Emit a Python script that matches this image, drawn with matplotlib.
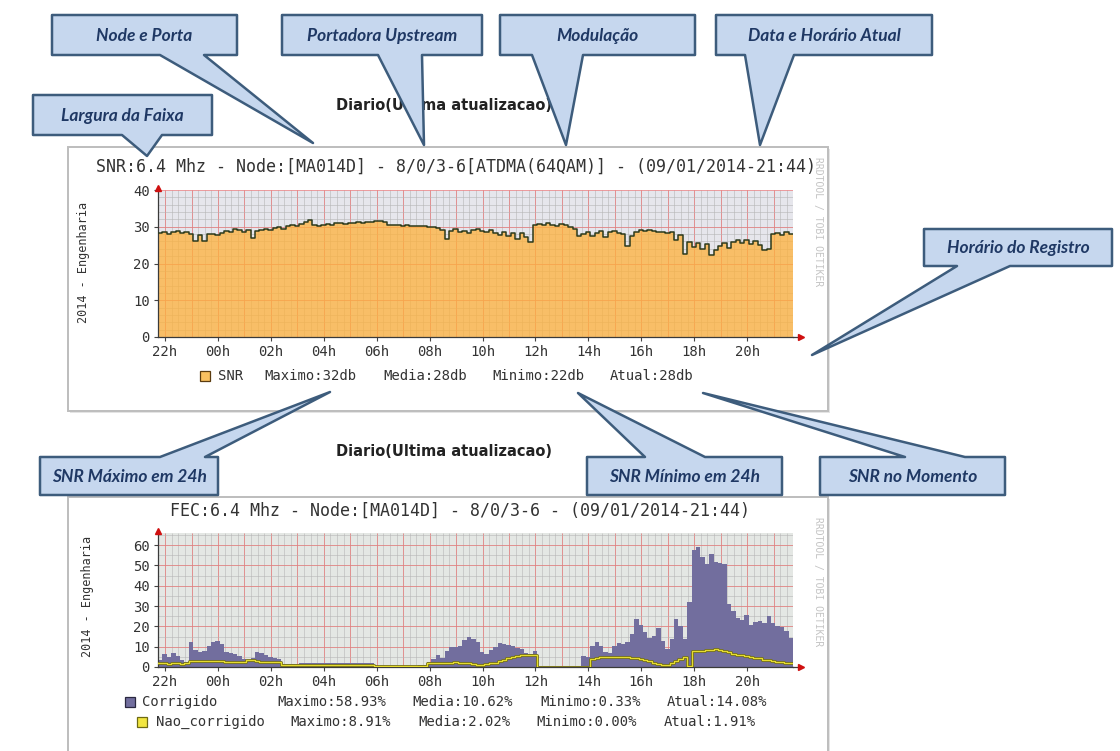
import numpy as np
import matplotlib
matplotlib.use("Agg")
import matplotlib.pyplot as plt
from matplotlib.patches import Polygon, Rectangle

W, H, DPI = 1120, 751, 100

# ---- time axis: 24 h window ending 09/01/2014 21:44, 10-minute samples ----
T_START = -(2 + 16 / 60)      # 21:44 of the previous day, in hours relative to 00h
STEP_H = 10 / 60
hour_ticks = [-2, 0, 2, 4, 6, 8, 10, 12, 14, 16, 18, 20]
hour_labels = ["22h", "00h", "02h", "04h", "06h", "08h", "10h",
               "12h", "14h", "16h", "18h", "20h"]

# ---- SNR (dB) ----
snr = [
    28.2, 28.5, 28.0, 28.6, 28.9, 28.3, 28.7, 28.1, 26.0, 27.8, 26.2, 27.9,
    28.0, 27.7, 28.4, 28.9, 28.5, 29.3, 29.0, 28.6, 29.1, 27.0, 28.8, 29.2,
    29.4, 29.0, 29.6, 29.9, 29.5, 30.2, 30.4, 30.1, 30.7, 31.4, 31.8, 30.6,
    30.3, 30.5, 30.8, 30.6, 30.9, 31.0, 30.8, 31.1, 30.9, 31.2, 31.0, 31.3,
    31.4, 31.6, 31.5, 31.2, 30.6, 30.4, 30.5, 30.3, 30.4, 30.2, 30.3, 30.1,
    30.2, 29.8, 29.9, 29.6, 29.2, 26.6, 28.8, 29.3, 28.6, 28.9, 28.4, 29.0,
    29.3, 28.8, 28.6, 29.1, 28.2, 27.7, 28.6, 27.5, 28.4, 26.6, 28.3, 27.2,
    25.9, 30.4, 30.8, 30.5, 30.9, 30.6, 30.2, 30.7, 30.4, 29.8, 29.5, 27.4,
    28.1, 28.6, 27.6, 28.3, 28.8, 27.2, 28.5, 28.9, 28.4, 27.9, 24.8, 27.6,
    28.6, 29.1, 28.8, 29.2, 28.9, 28.7, 28.6, 28.4, 28.7, 26.4, 27.8, 22.6,
    25.8, 24.6, 25.7, 23.9, 25.2, 22.4, 23.6, 24.8, 25.6, 24.2, 25.9, 26.4,
    25.6, 26.3, 25.4, 26.2, 24.9, 23.6, 23.9, 28.0, 28.3, 27.8, 28.6, 28.1,
]
snr_legend = ["Maximo:32db", "Media:28db", "Minimo:22db", "Atual:28db"]

# ---- FEC (%) ----
corrigido = [
    3.5, 6.5, 5.0, 7.0, 5.5, 3.5, 2.5, 12.3, 8.5, 7.5, 8.0, 10.5,
    12.5, 12.8, 11.5, 7.5, 6.8, 6.5, 5.5, 4.0, 3.5, 4.5, 7.5, 7.0,
    6.0, 5.0, 4.5, 4.0, 1.5, 1.6, 1.5, 1.7, 1.8, 2.0, 2.0, 1.9,
    2.0, 2.1, 1.9, 2.0, 2.1, 2.0, 1.9, 2.0, 1.8, 1.9, 2.0, 2.1,
    2.0, 0.6, 0.5, 0.5, 0.4, 0.5, 0.5, 0.6, 0.5, 0.6, 0.7, 0.8,
    1.0, 2.5, 4.0, 5.8, 4.5, 8.0, 10.0, 10.0, 10.2, 13.5, 14.6, 13.8,
    12.5, 7.5, 6.5, 8.5, 10.0, 11.8, 11.2, 10.8, 10.5, 9.5, 9.0, 7.0,
    6.5, 8.0, 0.4, 0.35, 0.33, 0.35, 0.4, 0.35, 0.33, 0.35, 0.4, 0.35,
    5.5, 5.0, 10.5, 12.3, 10.5, 7.5, 6.8, 10.5, 12.0, 11.5, 12.5, 16.5,
    23.5, 20.5, 17.0, 14.5, 15.5, 19.0, 13.0, 9.0, 14.0, 23.5, 20.0, 14.0,
    32.0, 57.5, 58.93, 54.0, 50.5, 55.5, 51.5, 51.0, 50.8, 31.0, 27.5, 24.0,
    23.0, 25.8, 20.5, 22.0, 22.5, 21.5, 25.0, 21.5, 20.0, 19.5, 17.5, 14.08,
]
nao_corrigido = [
    1.8, 1.8, 1.7, 1.8, 1.8, 1.7, 1.8, 3.2, 3.0, 2.9, 3.0, 2.9,
    3.0, 2.9, 2.8, 2.6, 2.5, 2.4, 2.4, 2.6, 3.3, 3.4, 2.8, 2.7,
    2.7, 2.6, 2.6, 2.5, 1.0, 1.0, 1.1, 1.0, 1.0, 1.1, 1.0, 1.0,
    1.0, 1.1, 1.0, 1.0, 1.1, 1.0, 1.0, 1.1, 1.0, 1.0, 1.1, 1.0,
    1.0, 0.4, 0.4, 0.3, 0.4, 0.4, 0.3, 0.4, 0.4, 0.4, 0.5, 0.5,
    0.6, 1.8, 2.0, 2.2, 2.2, 2.1, 2.2, 2.3, 2.2, 2.0, 1.8, 1.5,
    1.2, 1.0, 1.5, 1.8, 2.2, 2.8, 3.5, 4.2, 5.0, 5.5, 5.7, 5.8,
    6.0, 6.1, 0.0, 0.0, 0.0, 0.0, 0.0, 0.0, 0.0, 0.0, 0.0, 0.0,
    0.0, 0.0, 3.8, 4.6, 4.8, 4.9, 4.9, 4.8, 4.9, 4.8, 4.7, 4.6,
    4.4, 4.0, 3.5, 2.8, 2.2, 1.3, 0.9, 1.2, 1.8, 2.8, 4.0, 4.8,
    0.3, 8.0, 7.8, 8.0, 8.2, 8.4, 8.91, 8.6, 7.8, 7.2, 6.6, 6.0,
    5.7, 5.4, 5.0, 4.6, 4.2, 3.6, 3.4, 3.0, 2.6, 2.4, 2.1, 1.91,
]
corr_legend = ["Maximo:58.93%", "Media:10.62%", "Minimo:0.33%", "Atual:14.08%"]
nao_legend = ["Maximo:8.91%", "Media:2.02%", "Minimo:0.00%", "Atual:1.91%"]

snr_title = "SNR:6.4 Mhz - Node:[MA014D] - 8/0/3-6[ATDMA(64QAM)] - (09/01/2014-21:44)"
fec_title = "FEC:6.4 Mhz - Node:[MA014D] - 8/0/3-6 - (09/01/2014-21:44)"
page_title = "Diario(Ultima atualizacao)"
y_title = "2014 - Engenharia"
watermark = "RRDTOOL / TOBI OETIKER"

MONO = "DejaVu Sans Mono"
TXT = "#333333"
ORANGE = "#ffb13b"
PURPLE = "#726e9e"
YELLOW = "#e6dc2e"

fig = plt.figure(figsize=(W / DPI, H / DPI), dpi=DPI)
fig.patch.set_facecolor("white")


def px_axes(x0, y0, x1, y1, z):
    ax = fig.add_axes([x0 / W, 1 - y1 / H, (x1 - x0) / W, (y1 - y0) / H])
    ax.set_zorder(z)
    return ax


# background layer (frames, texts outside the plot areas)
bg = px_axes(0, 0, W, H, 0)
bg.set_xlim(0, W)
bg.set_ylim(H, 0)
bg.axis("off")

for (fx0, fy0, fx1, fy1) in [(68, 147, 828, 411), (68, 497, 828, 770)]:
    bg.add_patch(Rectangle((fx0 + 2, fy0 + 2), fx1 - fx0, fy1 - fy0,
                           fc="#e4e4e4", ec="none", zorder=1))
    bg.add_patch(Rectangle((fx0, fy0), fx1 - fx0, fy1 - fy0,
                           fc="white", ec="#bdbdbd", lw=1.4, zorder=2))

bg.text(444, 105, page_title, ha="center", va="center", fontsize=10.5,
        fontweight="bold", family="DejaVu Sans", color="#222222", zorder=3)
bg.text(444, 452, page_title, ha="center", va="center", fontsize=10.5,
        fontweight="bold", family="DejaVu Sans", color="#222222", zorder=3)


def time_grid(ax, ymax, ystep_minor):
    tmin = np.ceil(T_START * 4) / 4
    tmax = T_START + 24
    ax.vlines(np.arange(tmin, tmax, 0.25), 0, ymax, color="#b4b4b4",
              lw=0.55, alpha=0.7, zorder=1)
    ax.vlines(np.arange(np.ceil(T_START), tmax, 1.0), 0, ymax, color="#ee7070",
              lw=0.6, alpha=0.75, zorder=1)
    ax.hlines(np.arange(0, ymax, ystep_minor), T_START, tmax, color="#b4b4b4",
              lw=0.55, alpha=0.7, zorder=1)
    ax.hlines(np.arange(10, ymax + 0.01, 10), T_START, tmax, color="#ee7070",
              lw=0.6, alpha=0.75, zorder=1)


def style_axes(ax, ymax, yticks, bgcolor):
    ax.set_facecolor(bgcolor)
    ax.set_xlim(T_START, T_START + 24)
    ax.set_ylim(0, ymax)
    ax.set_xticks(hour_ticks)
    ax.set_xticklabels(hour_labels)
    ax.set_yticks(yticks)
    ax.tick_params(axis="both", length=3, width=0.8, color="#444444",
                   labelsize=10, labelcolor=TXT, pad=3)
    for lab in ax.get_xticklabels() + ax.get_yticklabels():
        lab.set_family(MONO)
    for s in ("top", "right"):
        ax.spines[s].set_visible(False)
    for s in ("left", "bottom"):
        ax.spines[s].set_color("#3a3a3a")
        ax.spines[s].set_linewidth(0.9)
    ax.plot([1.0, 1.012], [0, 0], color="#3a3a3a", lw=0.9,
            transform=ax.transAxes, clip_on=False, zorder=5)
    ax.plot([1.012], [0], marker=">", ms=4, color="#d01010",
            transform=ax.transAxes, clip_on=False, zorder=6)
    ax.plot([0], [1.015], marker="^", ms=4, color="#d01010",
            transform=ax.transAxes, clip_on=False, zorder=6)


def stepped(values):
    t = T_START + STEP_H * np.arange(len(values) + 1)
    v = np.append(values, values[-1])
    return t, v


# ---- SNR chart ----
ax1 = px_axes(158, 190, 793, 337, 2)
style_axes(ax1, 40, [0, 10, 20, 30, 40], "#e6e6ec")
time_grid(ax1, 40, 2)
t, v = stepped(snr)
ax1.fill_between(t, 0, v, step="post", color=ORANGE, alpha=0.75, lw=0, zorder=2)
ax1.step(t, v, where="post", color="#2c3a1c", lw=1.1, zorder=3)

bg.text(456, 167, snr_title, ha="center", va="center", fontsize=12,
        family=MONO, color=TXT, zorder=3)
bg.text(84, 262, y_title, ha="center", va="center", rotation=90,
        fontsize=8.5, family=MONO, color=TXT, zorder=3)
bg.text(818, 222, watermark, ha="center", va="center", rotation=270,
        fontsize=7, family=MONO, color="#c4c4c4", zorder=3)

bg.add_patch(Rectangle((200, 371), 10, 10, fc="#f8c060", ec="#5a3c10",
                       lw=0.9, zorder=3))
bg.text(218, 376, "SNR", ha="left", va="center", fontsize=10, family=MONO,
        color=TXT, zorder=3)
for xpos, lab in zip([264, 383, 492, 610], snr_legend):
    bg.text(xpos, 376, lab, ha="left", va="center", fontsize=10, family=MONO,
            color=TXT, zorder=3)

# ---- FEC chart ----
ax2 = px_axes(158, 533, 793, 667, 2)
style_axes(ax2, 66, [0, 10, 20, 30, 40, 50, 60], "#e4e7e4")
time_grid(ax2, 66, 5)
t, v = stepped(corrigido)
ax2.fill_between(t, 0, v, step="post", color=PURPLE, lw=0, zorder=2)
t, v = stepped(nao_corrigido)
ax2.step(t, v, where="post", color="#6e6a12", lw=2.0, zorder=3)
ax2.step(t, v, where="post", color=YELLOW, lw=0.9, zorder=4)

bg.text(460, 511, fec_title, ha="center", va="center", fontsize=12,
        family=MONO, color=TXT, zorder=3)
bg.text(87, 596, y_title, ha="center", va="center", rotation=90,
        fontsize=8.5, family=MONO, color=TXT, zorder=3)
bg.text(818, 582, watermark, ha="center", va="center", rotation=270,
        fontsize=7, family=MONO, color="#c4c4c4", zorder=3)

bg.add_patch(Rectangle((125, 697), 10, 10, fc=PURPLE, ec="#2a2840",
                       lw=0.9, zorder=3))
bg.text(142, 702, "Corrigido", ha="left", va="center", fontsize=10,
        family=MONO, color=TXT, zorder=3)
for xpos, lab in zip([277, 412, 540, 667], corr_legend):
    bg.text(xpos, 702, lab, ha="left", va="center", fontsize=10, family=MONO,
            color=TXT, zorder=3)
bg.add_patch(Rectangle((137, 717), 10, 10, fc="#f2e640", ec="#6e6a12",
                       lw=0.9, zorder=3))
bg.text(156, 722, "Nao_corrigido", ha="left", va="center", fontsize=10,
        family=MONO, color=TXT, zorder=3)
for xpos, lab in zip([290, 418, 536, 664], nao_legend):
    bg.text(xpos, 722, lab, ha="left", va="center", fontsize=10, family=MONO,
            color=TXT, zorder=3)

# ---- callouts on top of everything ----
ov = px_axes(0, 0, W, H, 10)
ov.set_xlim(0, W)
ov.set_ylim(H, 0)
ov.axis("off")
ov.patch.set_alpha(0)

callouts = [
    ("Largura da Faixa", (33, 95, 212, 135), "bottom", (122, 162), (147, 156)),
    ("Node e Porta", (52, 15, 237, 55), "bottom", (160, 204), (313, 143)),
    ("Portadora Upstream", (282, 15, 482, 55), "bottom", (378, 422), (424, 145)),
    ("Modulação", (500, 15, 695, 55), "bottom", (532, 583), (566, 145)),
    ("Data e Horário Atual", (716, 15, 932, 55), "bottom", (745, 794), (760, 145)),
    ("Horário do Registro", (924, 229, 1112, 266), "bottom", (957, 1010), (812, 355)),
    ("SNR Máximo em 24h", (40, 457, 218, 495), "top", (160, 205), (330, 392)),
    ("SNR Mínimo em 24h", (587, 457, 782, 495), "top", (645, 705), (578, 393)),
    ("SNR no Momento", (820, 457, 1005, 495), "top", (905, 965), (703, 393)),
]

for text, (x0, y0, x1, y1), edge, (b1, b2), tip in callouts:
    if edge == "bottom":
        pts = [(x0, y0), (x1, y0), (x1, y1), (b2, y1), tip, (b1, y1), (x0, y1)]
    else:
        pts = [(x0, y0), (b1, y0), tip, (b2, y0), (x1, y0), (x1, y1), (x0, y1)]
    ov.add_patch(Polygon(pts, closed=True, fc="#c6d7ee", ec="#3d5c7c",
                         lw=1.8, joinstyle="round"))
    ov.text((x0 + x1) / 2, (y0 + y1) / 2 + 1, text, ha="center", va="center",
            fontsize=12.5, family="Lato", fontweight="bold", fontstyle="italic",
            color="#1f3864")

fig.savefig("out.png", dpi=DPI, facecolor="white")
